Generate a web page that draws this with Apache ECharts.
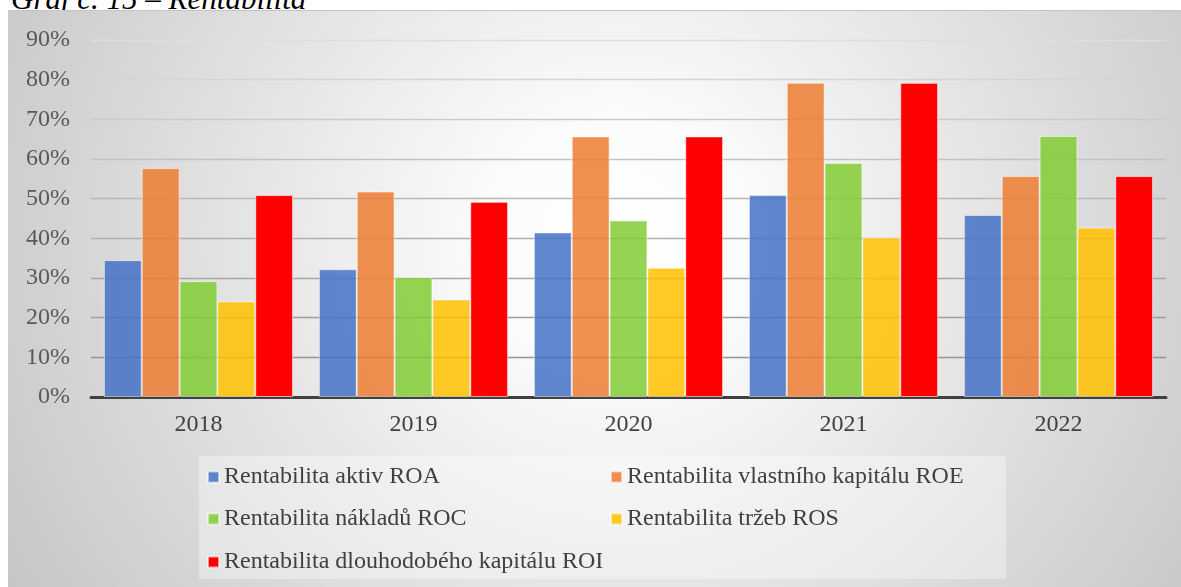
<!DOCTYPE html>
<html>
<head>
<meta charset="utf-8">
<script src="https://cdn.jsdelivr.net/npm/echarts@6/dist/echarts.min.js"></script>
<style>
    html, body { margin: 0; padding: 0; background: #ffffff; }
    #page { position: relative; width: 1181px; height: 587px; overflow: hidden; }
    #title {
        position: absolute; left: 11px; top: -17px;
        font: italic 31px "Liberation Serif", serif; line-height: 31px;
        color: #000000; white-space: nowrap;
    }
    #box {
        position: absolute; left: 8px; top: 10px; width: 1173px; height: 577px;
        border-top: 1px solid #c4c4c4;
        background: radial-gradient(ellipse 62% 120% at 52% 40%, #ffffff 0%, #fbfbfb 18%, #e4e4e4 52%, #c4c4c4 100%);
    }
    #chart { position: absolute; left: 0; top: 0; width: 1181px; height: 587px; }
</style>
</head>
<body>
<div id="page">
    <div id="title">Graf č. 15 – Rentabilita</div>
    <div id="box"></div>
    <div id="chart"></div>
</div>
<script>
    // roky
    var years = ['2018', '2019', '2020', '2021', '2022'];

    // hodnoty v %
    var roa = [34.5, 32.2, 41.5, 50.9, 45.9];
    var roe = [57.7, 51.8, 65.7, 79.2, 55.7];
    var roc = [29.2, 30.2, 44.5, 59.0, 65.8];
    var ros = [24.1, 24.6, 32.6, 40.2, 42.7];
    var roi = [50.9, 49.2, 65.7, 79.2, 55.7];

    var seriesNames = [
        'Rentabilita aktiv ROA',
        'Rentabilita vlastního kapitálu ROE',
        'Rentabilita nákladů ROC',
        'Rentabilita tržeb ROS',
        'Rentabilita dlouhodobého kapitálu ROI'
    ];
    var seriesData = [roa, roe, roc, ros, roi];
    var seriesColors = ['#4472C4', '#ED7D31', '#83CC35', '#FFC000', '#FF0000'];
    var seriesOpacity = [0.85, 0.85, 0.85, 0.85, 1];

    // pozice legendy (dva sloupce, tři řádky)
    var legendPos = [
        { left: 207, top: 465 },
        { left: 610, top: 465 },
        { left: 207, top: 507 },
        { left: 610, top: 507 },
        { left: 207, top: 550 }
    ];

    var font = '"Liberation Serif", "Times New Roman", serif';

    var chart = echarts.init(document.getElementById('chart'), null, { renderer: 'canvas' });

    var series = [];
    var legends = [];
    for (var i = 0; i < seriesNames.length; i++) {
        series.push({
            name: seriesNames[i],
            type: 'bar',
            data: seriesData[i],
            barGap: '0%',
            barCategoryGap: '12%',
            itemStyle: {
                color: seriesColors[i],
                opacity: seriesOpacity[i],
                borderColor: 'rgba(255,255,255,0.6)',
                borderWidth: 1
            },
            emphasis: { disabled: true }
        });
        legends.push({
            data: [seriesNames[i]],
            left: legendPos[i].left,
            top: legendPos[i].top,
            padding: 0,
            icon: 'rect',
            itemWidth: 11,
            itemHeight: 11,
            selectedMode: false,
            textStyle: {
                fontFamily: font,
                fontSize: 24,
                lineHeight: 24,
                color: '#404040'
            }
        });
    }

    var option = {
        animation: false,
        backgroundColor: 'transparent',
        graphic: [{
            type: 'rect',
            z: -10,
            silent: true,
            shape: { x: 199, y: 456, width: 807, height: 123 },
            style: { fill: 'rgba(255,255,255,0.35)' }
        }],
        legend: legends,
        grid: {
            left: 91,
            right: 15,
            top: 40,
            bottom: 190,
            containLabel: false,
            outerBoundsMode: 'none'
        },
        xAxis: {
            type: 'category',
            data: years,
            axisLine: { show: true, lineStyle: { color: '#404040', width: 3 } },
            axisTick: { show: false },
            axisLabel: {
                margin: 16,
                fontFamily: font,
                fontSize: 24,
                color: '#404040'
            },
            splitLine: { show: false }
        },
        yAxis: {
            type: 'value',
            min: 0,
            max: 90,
            interval: 10,
            axisLine: { show: false },
            axisTick: { show: false },
            axisLabel: {
                margin: 21,
                fontFamily: font,
                fontSize: 24,
                color: '#595959',
                formatter: '{value}%'
            },
            splitLine: {
                show: true,
                lineStyle: {
                    width: 1.3,
                    color: {
                        type: 'linear',
                        x: 0, y: 40, x2: 0, y2: 397,
                        global: true,
                        colorStops: [
                            { offset: 0, color: '#dedede' },
                            { offset: 0.5, color: '#b4b4b4' },
                            { offset: 1, color: '#8c8c8c' }
                        ]
                    }
                }
            }
        },
        series: series
    };

    chart.setOption(option);
</script>
</body>
</html>
